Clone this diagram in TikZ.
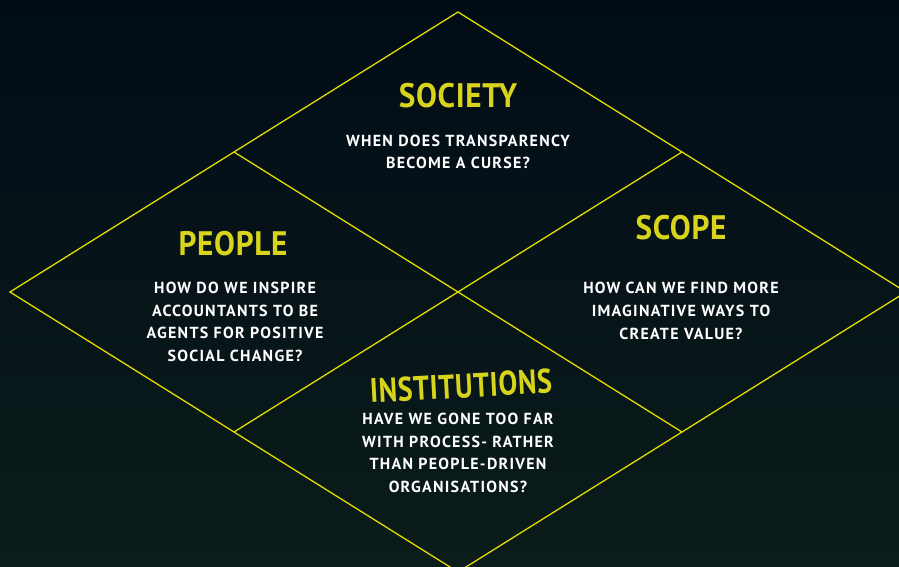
\documentclass[tikz,border=0pt]{standalone}
\usepackage{fontspec}
\usetikzlibrary{calc}
\setmainfont{PT Sans}
\newfontfamily\headfont{PT Sans}[FakeStretch=0.92,LetterSpace=2]
\newfontfamily\askfont{PT Sans}[LetterSpace=8]
\definecolor{bgtop}{HTML}{020C17}
\definecolor{bgbot}{HTML}{0B1C1A}
\definecolor{rim}{HTML}{E2DC00}
\definecolor{headyellow}{HTML}{D8D41C}
\tikzset{
  heading/.style={inner sep=0pt,text=headyellow,font=\headfont\bfseries\fontsize{34}{34}\selectfont},
  question/.style={inner sep=0pt,text=white,align=center,font=\askfont\bfseries\fontsize{16}{22.7}\selectfont},
}
\begin{document}
\begin{tikzpicture}[x=1pt,y=-1pt]
  \fill[top color=bgtop,bottom color=bgbot] (0,0) rectangle (899,567);
  \useasboundingbox (0,0) rectangle (899,567);
  \clip (0,0) rectangle (899,567);

  % corners of the big diamond and the midpoints of its sides
  \coordinate (top) at (458,12);
  \coordinate (left) at (10,292);
  \coordinate (right) at (906,292);
  \coordinate (bottom) at (458,572);
  \coordinate (nw) at ($(top)!.5!(left)$);
  \coordinate (ne) at ($(top)!.5!(right)$);
  \coordinate (sw) at ($(bottom)!.5!(left)$);
  \coordinate (se) at ($(bottom)!.5!(right)$);

  \draw[rim, line width=1.3pt, line join=miter] (top) -- (right) -- (bottom) -- (left) -- cycle;
  \draw[rim, line width=1.3pt] (nw) -- (se);
  \draw[rim, line width=1.3pt] (ne) -- (sw);

  \node[heading] (society) at (458,96) {SOCIETY};
  \node[question] (societyq) at (458,152) {WHEN DOES TRANSPARENCY\\BECOME A CURSE?};

  \node[heading] (people) at (233,244) {PEOPLE};
  \node[question] (peopleq) at (235,322) {HOW DO WE INSPIRE\\ACCOUNTANTS TO BE\\AGENTS FOR POSITIVE\\SOCIAL CHANGE?};

  \node[heading] (scope) at (681,228) {SCOPE};
  \node[question] (scopeq) at (681,311) {HOW CAN WE FIND MORE\\IMAGINATIVE WAYS TO\\CREATE VALUE?};

  \node[heading, rotate=3, xscale=.9, transform shape] (institutions) at (461,386) {INSTITUTIONS};
  \node[question] (institutionsq) at (458,453) {HAVE WE GONE TOO FAR\\WITH PROCESS- RATHER\\THAN PEOPLE-DRIVEN\\ORGANISATIONS?};
\end{tikzpicture}
\end{document}
